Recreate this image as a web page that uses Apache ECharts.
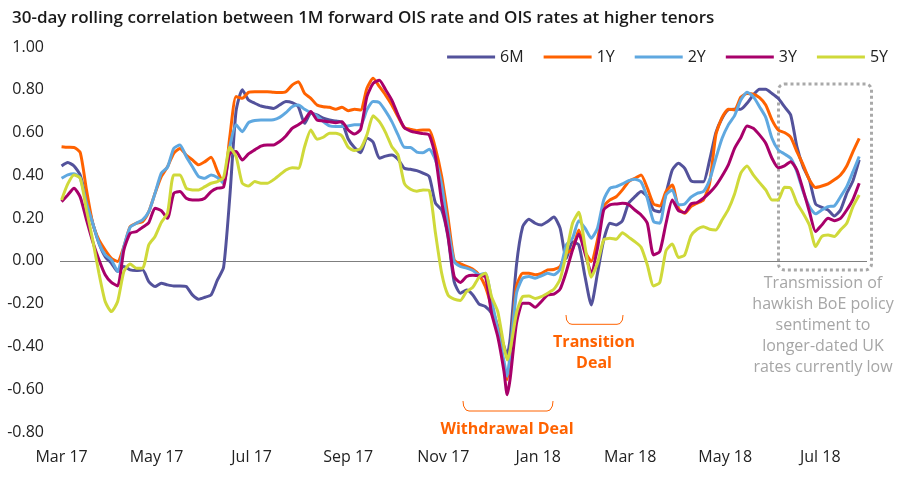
<!DOCTYPE html>
<html><head><meta charset="utf-8">
<script src="https://cdn.jsdelivr.net/npm/echarts@6/dist/echarts.min.js"></script>
<style>html,body{margin:0;padding:0;background:#fff}#c{width:903px;height:479px}</style>
</head><body><div id="c"></div>
<script>
// Day offsets from 1 Mar 2017
const days = [0,4,8,12,16,20,24,28,32,36,40,44,48,52,56,60,64,68,72,76,80,84,88,92,96,100,104,108,112,116,120,124,128,132,136,140,144,148,152,156,160,164,168,172,176,180,184,188,192,196,200,204,208,212,216,220,224,228,232,236,240,244,248,252,256,260,264,268,272,276,280,284,286,288,292,296,300,304,308,312,316,320,324,328,332,336,340,344,348,352,356,360,364,368,372,376,380,384,388,392,396,400,404,408,412,416,420,424,428,432,436,440,444,448,452,456,460,464,468,472,476,480,484,488,492,496,500,504,508,512];

const s6M = [0.444,0.46,0.444,0.40,0.285,0.176,0.083,0.02,-0.011,-0.05,
-0.026,-0.042,-0.045,-0.042,-0.097,-0.12,-0.104,-0.112,-0.117,-0.117,
-0.12,-0.159,-0.179,-0.17,-0.159,-0.09,-0.03,0.30,0.70,0.80,
0.752,0.737,0.724,0.718,0.713,0.729,0.745,0.74,0.721,0.643,
0.69,0.682,0.667,0.659,0.654,0.648,0.57,0.53,0.506,0.575,
0.555,0.48,0.49,0.495,0.475,0.433,0.428,0.422,0.41,0.394,
0.27,0.238,0.114,-0.097,-0.151,-0.136,-0.159,-0.202,-0.213,-0.245,
-0.307,-0.40,-0.44,-0.36,-0.02,0.16,0.195,0.176,0.168,0.184,
0.205,0.153,0.012,0.09,0.075,-0.073,-0.206,-0.058,0.098,0.176,
0.168,0.188,0.27,0.30,0.324,0.30,0.238,0.23,0.316,0.425,
0.456,0.433,0.375,0.37,0.37,0.472,0.60,0.667,0.706,0.709,
0.709,0.737,0.776,0.802,0.802,0.783,0.76,0.721,0.682,0.534,
0.44,0.379,0.266,0.25,0.238,0.21,0.238,0.316,0.375,0.472];

const s1Y = [0.534,0.531,0.53,0.506,0.332,0.176,0.098,0.051,0.012,-0.003,
0.067,0.16,0.176,0.184,0.23,0.316,0.394,0.44,0.503,0.526,
0.495,0.472,0.449,0.464,0.484,0.42,0.36,0.58,0.768,0.76,
0.788,0.791,0.791,0.791,0.788,0.787,0.791,0.822,0.838,0.783,
0.76,0.729,0.721,0.718,0.709,0.718,0.702,0.709,0.706,0.807,
0.854,0.815,0.775,0.729,0.674,0.623,0.615,0.609,0.612,0.612,
0.526,0.394,0.207,0.005,-0.014,-0.026,-0.039,-0.065,-0.12,-0.213,
-0.307,-0.494,-0.556,-0.447,-0.12,-0.058,-0.058,-0.065,-0.058,-0.042,
-0.04,-0.026,0.036,0.055,0.145,0.044,-0.003,0.098,0.254,0.285,
0.30,0.332,0.371,0.386,0.402,0.34,0.266,0.257,0.324,0.355,
0.246,0.223,0.254,0.27,0.285,0.363,0.59,0.671,0.709,0.706,
0.765,0.783,0.78,0.763,0.729,0.659,0.612,0.60,0.578,0.511,
0.449,0.379,0.343,0.35,0.36,0.379,0.402,0.444,0.511,0.573];

const s2Y = [0.386,0.402,0.407,0.386,0.27,0.176,0.083,0.028,0.005,-0.05,
0.067,0.157,0.176,0.192,0.23,0.316,0.41,0.438,0.526,0.542,
0.488,0.44,0.394,0.386,0.402,0.39,0.363,0.534,0.636,0.604,
0.646,0.656,0.659,0.659,0.66,0.671,0.693,0.721,0.729,0.709,
0.693,0.678,0.651,0.631,0.628,0.628,0.631,0.636,0.636,0.706,
0.745,0.74,0.70,0.651,0.589,0.531,0.53,0.509,0.506,0.522,
0.472,0.355,0.16,-0.003,-0.026,-0.034,-0.045,-0.065,-0.058,-0.182,
-0.322,-0.47,-0.54,-0.431,-0.151,-0.081,-0.073,-0.081,-0.07,-0.058,
-0.065,-0.039,0.075,0.106,0.188,0.153,0.106,0.153,0.285,0.34,
0.347,0.36,0.375,0.382,0.369,0.293,0.184,0.176,0.308,0.332,
0.262,0.266,0.298,0.316,0.324,0.379,0.48,0.573,0.636,0.679,
0.752,0.788,0.768,0.721,0.671,0.573,0.519,0.50,0.48,0.417,
0.324,0.254,0.22,0.238,0.254,0.257,0.30,0.347,0.417,0.488];

const s3Y = [0.277,0.308,0.34,0.298,0.192,0.09,0.005,-0.065,-0.101,-0.117,
0.051,0.129,0.137,0.157,0.179,0.246,0.235,0.199,0.316,0.324,
0.293,0.285,0.285,0.293,0.324,0.34,0.345,0.503,0.511,0.472,
0.50,0.519,0.537,0.542,0.542,0.558,0.584,0.62,0.636,0.659,
0.698,0.659,0.654,0.65,0.646,0.651,0.612,0.593,0.615,0.768,
0.83,0.845,0.80,0.752,0.682,0.623,0.607,0.60,0.595,0.589,
0.488,0.277,0.121,-0.073,-0.101,-0.073,-0.067,-0.069,-0.073,-0.245,
-0.354,-0.517,-0.626,-0.548,-0.291,-0.198,-0.198,-0.217,-0.19,-0.159,
-0.155,-0.132,-0.05,0.051,0.126,0.036,-0.055,0.059,0.238,0.262,
0.266,0.269,0.263,0.238,0.215,0.176,0.028,0.044,0.176,0.285,
0.235,0.226,0.266,0.273,0.293,0.319,0.352,0.397,0.449,0.526,
0.576,0.631,0.62,0.589,0.55,0.48,0.436,0.444,0.464,0.425,
0.332,0.231,0.137,0.168,0.199,0.188,0.199,0.238,0.288,0.363];

const s5Y = [0.285,0.36,0.402,0.386,0.238,0.098,-0.058,-0.19,-0.237,-0.19,
-0.05,-0.014,-0.034,-0.034,0.075,0.114,0.179,0.223,0.402,0.402,
0.34,0.332,0.332,0.347,0.363,0.371,0.39,0.531,0.488,0.363,
0.35,0.371,0.363,0.363,0.379,0.402,0.425,0.436,0.433,0.534,
0.612,0.569,0.578,0.597,0.597,0.584,0.531,0.516,0.526,0.589,
0.678,0.651,0.60,0.534,0.495,0.363,0.335,0.326,0.332,0.329,
0.13,-0.058,-0.159,-0.179,-0.185,-0.143,-0.123,-0.076,-0.058,-0.167,
-0.237,-0.40,-0.463,-0.416,-0.245,-0.167,-0.164,-0.176,-0.167,-0.151,
-0.133,-0.086,0.036,0.176,0.227,0.067,-0.076,-0.011,0.098,0.106,
0.101,0.132,0.111,0.09,0.064,-0.019,-0.117,-0.101,0.048,0.079,
0.016,0.028,0.117,0.148,0.16,0.148,0.145,0.192,0.241,0.313,
0.41,0.444,0.402,0.366,0.332,0.285,0.285,0.344,0.34,0.27,
0.223,0.168,0.067,0.114,0.121,0.114,0.145,0.176,0.254,0.308];

const seriesNames = ['6M','1Y','2Y','3Y','5Y'];
const seriesColors = ['#53529b','#ff6200','#5fa8e0','#a8006a','#cfd93a'];
const seriesValues = [s6M, s1Y, s2Y, s3Y, s5Y];

// X tick labels (month starts, day offsets from 1 Mar 2017)
const tickDays = [0,61,122,184,245,306,365,426,487];
const tickLabels = ['Mar 17','May 17','Jul 17','Sep 17','Nov 17','Jan 18','Mar 18','May 18','Jul 18'];

const FONT = "'Open Sans', 'Noto Sans', sans-serif";
const chart = echarts.init(document.getElementById('c'), null, {renderer:'canvas'});

const series = seriesNames.map((n,i)=>({
  name:n, type:'line', showSymbol:false, symbol:'none', smooth:0.2,
  data: days.map((d,k)=>[d, seriesValues[i][k]]),
  lineStyle:{width:3, color:seriesColors[i]}, itemStyle:{color:seriesColors[i]},
  z: 3+i, animation:false,
  markLine: i===0 ? {silent:true, symbol:'none', label:{show:false},
    lineStyle:{color:'#7f7f7f', width:1, type:'solid'}, data:[{yAxis:0}], z:1} : undefined
}));

chart.setOption({
  animation:false,
  title:{text:'30-day rolling correlation between 1M forward OIS rate and OIS rates at higher tenors',
    left:7, top:5, textStyle:{fontFamily:FONT, fontSize:17, fontWeight:600, color:'#1a1a1a'}},
  legend:{data:seriesNames, right:10, top:44, icon:'rect', itemWidth:48, itemHeight:3, itemGap:20,
    textStyle:{fontFamily:FONT, fontSize:16, color:'#222'}},
  grid:{left:60, right:36, top:47, bottom:47},
  xAxis:{type:'value', min:-1, max:517,
    axisLine:{show:false}, axisTick:{show:false}, splitLine:{show:false},
    axisLabel:{customValues:tickDays, margin:17, fontFamily:FONT, fontSize:16, color:'#222',
      formatter:(v)=>{const k=tickDays.indexOf(v); return k>=0?tickLabels[k]:'';}}},
  yAxis:{type:'value', min:-0.8, max:1.0, interval:0.2,
    axisLine:{show:false}, axisTick:{show:false}, splitLine:{show:false},
    axisLabel:{margin:16, fontFamily:FONT, fontSize:16, color:'#222', formatter:(v)=>v.toFixed(2)}},
  series: series,
  graphic:[
    {type:'polyline', silent:true, shape:{points:[[463,401],[463.6,406],[466,410],[469,411],[547,411],[550,410],[552.4,406],[553,401]]},
      style:{stroke:'#ff6200', lineWidth:1, fill:null}},
    {type:'text', silent:true, style:{text:'Withdrawal Deal', x:507, y:429, align:'center', verticalAlign:'middle',
      fontFamily:FONT, fontSize:16, fontWeight:'bold', fill:'#ff6200'}},
    {type:'polyline', silent:true, shape:{points:[[566,315],[566.6,320],[569,323.5],[572,324.3],[617,324.3],[620,323.5],[622.4,320],[623,315]]},
      style:{stroke:'#ff6200', lineWidth:1, fill:null}},
    {type:'text', silent:true, style:{text:'Transition\nDeal', x:594, y:353, align:'center', verticalAlign:'middle',
      lineHeight:21, fontFamily:FONT, fontSize:16, fontWeight:'bold', fill:'#ff6200'}},
    {type:'rect', silent:true, shape:{x:778.5, y:84, width:93, height:186, r:6},
      style:{fill:null, stroke:'#a9a9a9', lineWidth:3, lineDash:[3,3]}},
    {type:'text', silent:true, style:{text:'Transmission of\nhawkish BoE policy\nsentiment to\nlonger-dated UK\nrates currently low',
      x:823, y:325.5, align:'center', verticalAlign:'middle', lineHeight:21,
      fontFamily:FONT, fontSize:16, fill:'#a6a6a6'}}
  ]
});
</script></body></html>
